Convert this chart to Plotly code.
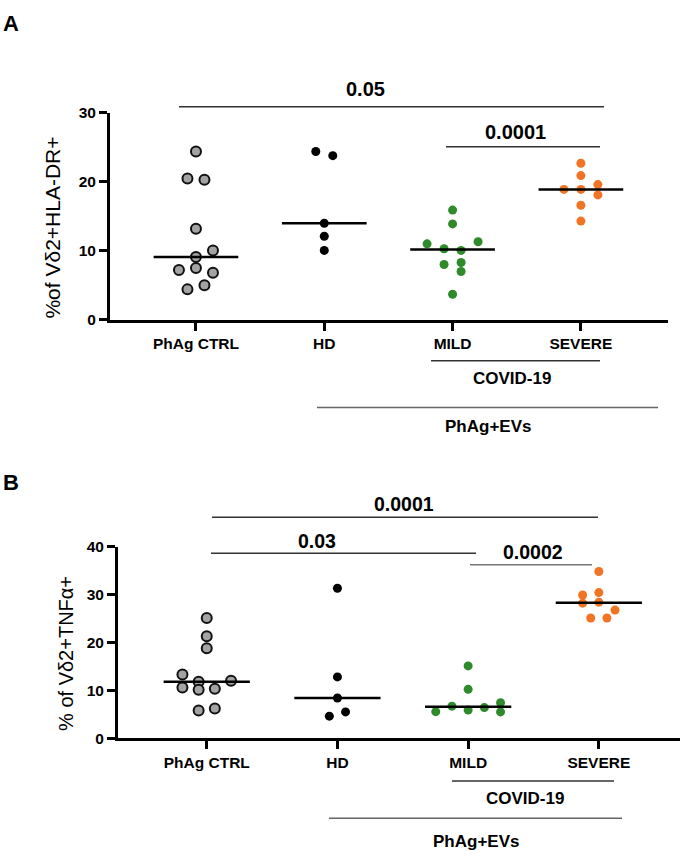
import numpy as np
import plotly.graph_objects as go

W, H = 688, 856

categories = ["PhAg CTRL", "HD", "MILD", "SEVERE"]
colors_fill = ["#a3a3a3", "#000000", "#2f8a2c", "#f07424"]
colors_line = ["#111111", "#000000", "#2f8a2c", "#f07424"]

# Panel A: % of Vd2+ HLA-DR+
a_ctrl = [24.4, 20.5, 20.3, 13.2, 10.05, 9.1, 7.5, 7.2, 6.8, 5.0, 4.4]
a_hd = [24.4, 23.8, 14.0, 12.1, 10.05]
a_mild = [15.9, 13.9, 11.0, 11.3, 10.3, 10.05, 8.0, 8.3, 7.0, 3.7]
a_severe = [22.7, 20.9, 19.6, 18.9, 18.9, 18.1, 16.6, 14.3]
# horizontal jitter slots (scatter-dot layout)
a_ctrl_j = [0, -1, 1, 0, 2, 0, 0, -2, 2, 1, -1]
a_hd_j = [-1, 1, 0, 0, 0]
a_mild_j = [0, 0, -3, 3, -1, 1, -1, 1, 1, 0]
a_severe_j = [0, 0, 2, -2, 0, 2, 0, 0]

# Panel B: % of Vd2+ TNFa+
b_ctrl = [25.1, 21.3, 18.8, 13.3, 11.8, 12.0, 10.6, 10.1, 10.35, 5.8, 6.2]
b_hd = [31.3, 12.8, 8.4, 5.5, 4.6]
b_mild = [15.1, 10.2, 6.7, 6.4, 7.4, 5.9, 5.55, 5.5]
b_severe = [34.8, 30.4, 29.9, 28.2, 28.4, 26.75, 25.1, 25.1]
b_ctrl_j = [0, 0, 0, -3, -1, 3, -3, -1, 1, -1, 1]
b_hd_j = [0, 0, 0, 1, -1]
b_mild_j = [0, 0, -2, 2, 4, 0, -4, 4]
b_severe_j = [0, 0, -2, -2, 0, 2, -1, 1]

y_ticks_a = [0, 10, 20, 30]
y_ticks_b = [0, 10, 20, 30, 40]

def px(x):
    return x / W

def py(y):
    return 1 - y / H

fig = go.Figure()

panels = [
    ("x", "y", [a_ctrl, a_hd, a_mild, a_severe], [a_ctrl_j, a_hd_j, a_mild_j, a_severe_j], 8.5 / 128.3),
    ("x2", "y2", [b_ctrl, b_hd, b_mild, b_severe], [b_ctrl_j, b_hd_j, b_mild_j, b_severe_j], 8.1 / 130.7),
]
for xa, ya, groups, jits, slot in panels:
    for i, (vals, jit) in enumerate(zip(groups, jits)):
        xs = [i + j * slot for j in jit]
        is_ctrl = i == 0
        fig.add_trace(go.Scatter(
            x=xs, y=vals, xaxis=xa, yaxis=ya, mode="markers",
            marker=dict(size=10 if is_ctrl else 9, color=colors_fill[i],
                        line=dict(color=colors_line[i], width=2 if is_ctrl else 0)),
            showlegend=False, cliponaxis=False, hoverinfo="y"))
        med = float(np.median(vals))
        fig.add_trace(go.Scatter(
            x=[i - 0.33, i + 0.33], y=[med, med], xaxis=xa, yaxis=ya, mode="lines",
            line=dict(color="black", width=2.5), showlegend=False, hoverinfo="skip"))

tickfont = dict(family="Liberation Sans, Arial", size=15.5, color="black", weight="bold")
common_x = dict(tickvals=[0, 1, 2, 3], ticktext=categories, showline=True, linewidth=3,
                linecolor="black", ticks="outside", ticklen=8, tickwidth=2.5, tickcolor="black",
                showgrid=False, zeroline=False, tickfont=tickfont, fixedrange=True)
common_y = dict(showline=True, linewidth=3, linecolor="black", ticks="outside", ticklen=8,
                tickwidth=2.5, tickcolor="black", showgrid=False, zeroline=False,
                tickfont=tickfont, fixedrange=True)

fig.update_layout(
    width=W, height=H, margin=dict(l=0, r=0, t=0, b=0),
    paper_bgcolor="white", plot_bgcolor="white",
    xaxis=dict(domain=[px(110), px(668)], anchor="y", range=[-0.670, 3.679], **common_x),
    yaxis=dict(domain=[py(317), py(106)], anchor="x", range=[0, 30], tickvals=y_ticks_a, **common_y),
    xaxis2=dict(domain=[px(118), px(680)], anchor="y2", range=[-0.679, 3.621], **common_x),
    yaxis2=dict(domain=[py(744), py(548.5)], anchor="x2", range=[0, 40], tickvals=y_ticks_b, **common_y),
)

shapes = []
def hline(x0, x1, y, color="#333333", width=1.5):
    shapes.append(dict(type="line", xref="paper", yref="paper", x0=px(x0), x1=px(x1),
                       y0=py(y), y1=py(y), line=dict(color=color, width=width)))

annots = []
def text(t, x, y, size=20, bold=True, angle=0):
    annots.append(dict(text=t, x=px(x), y=py(y), xref="paper", yref="paper", showarrow=False,
                       xanchor="center", yanchor="middle", textangle=angle,
                       font=dict(family="Liberation Sans, Arial", size=size, color="black",
                                 weight="bold" if bold else "normal")))

# Panel A brackets
hline(179, 604, 99.7)
text("0.05", 366, 82)
hline(446, 600, 140.5)
text("0.0001", 515, 126)
hline(431, 600, 359)
text("COVID-19", 512, 377, size=17)
hline(317, 658, 406.5, color="#666666")
text("PhAg+EVs", 488, 426, size=17)

# Panel B brackets
hline(212, 598, 518.5)
text("0.0001", 404, 505.5, size=19.5)
hline(211, 476, 555.3)
text("0.03", 317, 542.5, size=19.5)
hline(470, 592, 567, color="#777777")
text("0.0002", 533, 554, size=19.5)
hline(452, 614, 787.7)
text("COVID-19", 525, 805.5, size=17)
hline(329, 622, 825.7, color="#666666")
text("PhAg+EVs", 476, 849, size=17)

# Y axis titles
text("%of Vδ2+HLA-DR+", 53, 223, size=21, bold=False, angle=-90)
text("% of Vδ2+TNFα+", 66, 658, size=20, bold=False, angle=-90)

# Panel letters
text("A", 11, 15, size=22)
text("B", 11, 483, size=22)

fig.update_layout(shapes=shapes, annotations=annots)
fig.write_html("out.html")
